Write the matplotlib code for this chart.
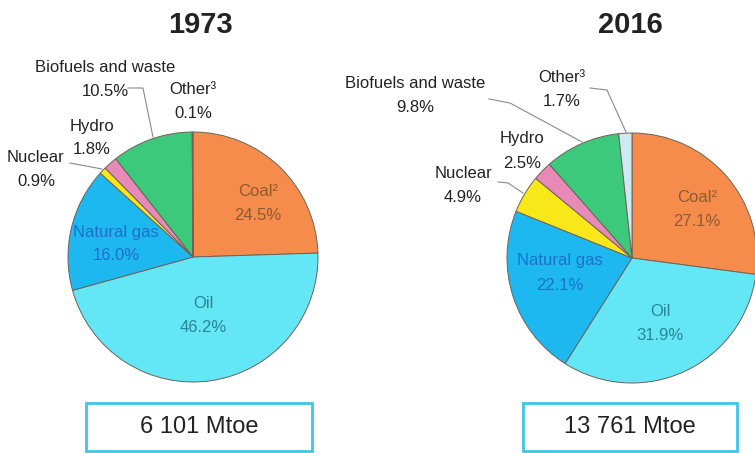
import matplotlib.pyplot as plt
from matplotlib.patches import Rectangle

# data (order clockwise from 12 o'clock)
sources = ['Coal²', 'Oil', 'Natural gas', 'Nuclear', 'Hydro', 'Biofuels and waste', 'Other³']
share_1973 = [24.5, 46.2, 16.0, 0.9, 1.8, 10.5, 0.1]
share_2016 = [27.1, 31.9, 22.1, 4.9, 2.5, 9.8, 1.7]
years = ['1973', '2016']
totals = ['6 101 Mtoe', '13 761 Mtoe']

colors = ['#F68C4C', '#63E6F6', '#1EB8F0', '#F8E81A', '#E88AB8', '#3DC97C', '#CFE9F2']
text_colors = ['#8E5A32', '#2A8696', '#1E6FCC', '#222222', '#222222', '#222222', '#222222']

font = ['Liberation Sans', 'DejaVu Sans']
H = 453  # image height in px, layout is given in image pixels (y down)

# layout per pie: centre, label centres (image px), leader lines
layout = [
    dict(center=(193, 257), radius=125, title=(200, 25), box=(86, 403, 312, 451),
         labels=[(258, 204), (203, 316), (116, 244), (36, 170), (92, 138), (105, 79), (193, 101)],
         leaders=[[(128, 88), (143, 88), (153, 137)],
                  [(70, 163), (102, 169)]]),
    dict(center=(632, 258), radius=125, title=(630, 25), box=(523, 403, 737, 451),
         labels=[(697, 210), (660, 323), (560, 273), (463, 185), (522, 151), (415, 96), (562, 90)],
         leaders=[[(489, 99), (510, 103), (582, 142)],
                  [(590, 88), (607, 90), (626, 132)],
                  [(498, 182), (508, 183), (523, 193)]]),
]

fig = plt.figure(figsize=(7.55, 4.53), dpi=100)
ax = fig.add_axes([0, 0, 1, 1])
ax.set_xlim(0, 755)
ax.set_ylim(0, H)
ax.set_aspect('equal')
ax.axis('off')

for year, total, shares, lay in zip(years, totals, [share_1973, share_2016], layout):
    cx, cy = lay['center']
    ax.pie(shares, colors=colors, startangle=90, counterclock=False,
           center=(cx, H - cy), radius=lay['radius'],
           wedgeprops=dict(edgecolor='#6E6258', linewidth=0.7))
    ax.text(lay['title'][0], H - lay['title'][1], year, ha='center', va='center',
            fontsize=21, fontweight='bold', family=font, color='#222222')
    for name, val, (lx, ly), tc in zip(sources, shares, lay['labels'], text_colors):
        # name above, share below
        ax.text(lx, H - ly + 12, name, ha='center', va='center',
                fontsize=12, family=font, color=tc)
        ax.text(lx, H - ly - 12, f'{val:.1f}%', ha='center', va='center',
                fontsize=12, family=font, color=tc)
    for line in lay['leaders']:
        xs = [p[0] for p in line]
        ys = [H - p[1] for p in line]
        ax.plot(xs, ys, color='#8A8A8A', linewidth=0.8)
    x0, y0, x1, y1 = lay['box']
    ax.add_patch(Rectangle((x0, H - y1), x1 - x0, y1 - y0, facecolor='white',
                           edgecolor='#3EC6EA', linewidth=2))
    ax.text((x0 + x1) / 2, H - (y0 + y1) / 2, total, ha='center', va='center',
            fontsize=17, family=font, color='#222222')

ax.set_xlim(0, 755)
ax.set_ylim(0, H)
fig.savefig('out.png', dpi=100)
